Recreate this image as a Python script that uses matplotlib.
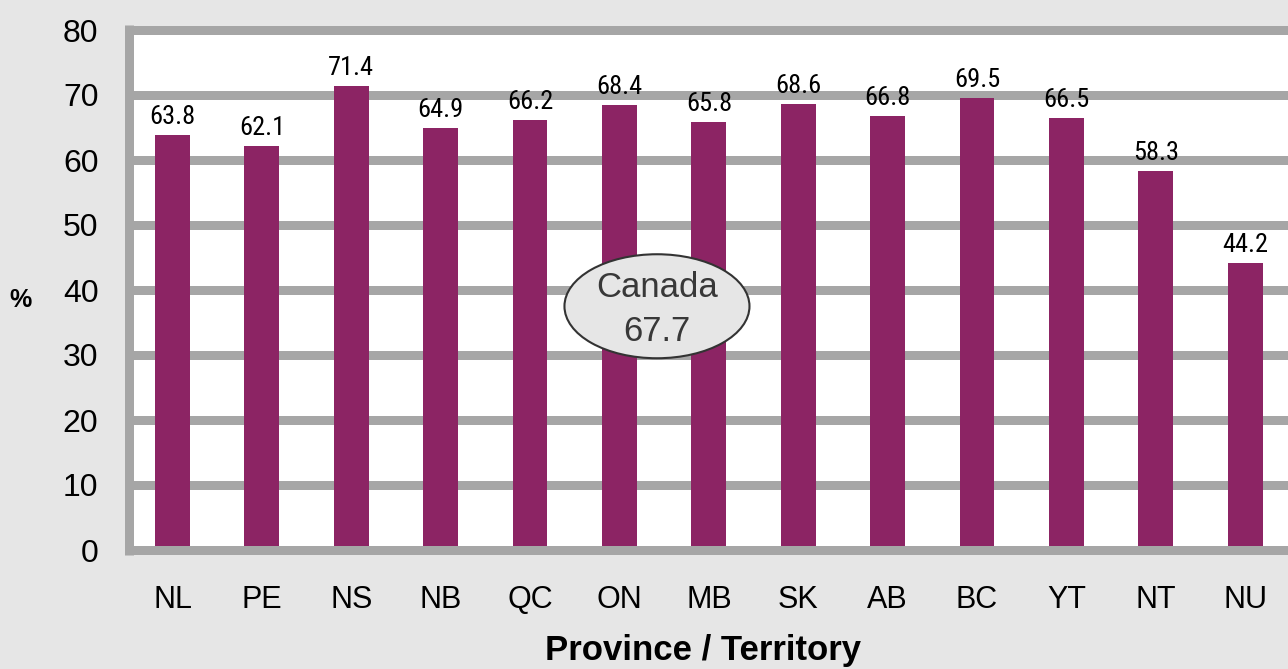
import matplotlib
matplotlib.use("Agg")
import matplotlib.pyplot as plt
from matplotlib.patches import Ellipse

# ---- data ----
provinces = ["NL", "PE", "NS", "NB", "QC", "ON", "MB", "SK", "AB", "BC", "YT", "NT", "NU"]
values = [63.8, 62.1, 71.4, 64.9, 66.2, 68.4, 65.8, 68.6, 66.8, 69.5, 66.5, 58.3, 44.2]
y_ticks = [0, 10, 20, 30, 40, 50, 60, 70, 80]
canada_label = "Canada"
canada_value = 67.7
x_title = "Province / Territory"
y_title = "%"

# ---- style ----
BG = "#E6E6E6"
GRID = "#A6A6A6"
BAR = "#8C2464"
DPI = 100
W, H = 1288, 669
px = 72.0 / DPI  # points per pixel

plt.rcParams["font.family"] = ["Liberation Sans", "DejaVu Sans"]

fig = plt.figure(figsize=(W / DPI, H / DPI), dpi=DPI, facecolor=BG)

left_px, right_px = 129, 1288
top_px, bottom_px = 30, 550
ax = fig.add_axes([left_px / W, (H - bottom_px) / H,
                   (right_px - left_px) / W, (bottom_px - top_px) / H])
ax.set_facecolor("white")

x = list(range(len(provinces)))
xmin, xmax = -0.487, 12.48
ax.set_xlim(xmin, xmax)
ax.set_ylim(0, 80)

# gridlines (thick grey)
for t in y_ticks:
    ax.hlines(t, xmin, xmax, colors=GRID, linewidth=9 * px,
              zorder=3 if t == 0 else 1, clip_on=False)
# left border
ax.vlines(xmin, -0.7, 80.7, colors=GRID, linewidth=9 * px, zorder=3, clip_on=False)

ax.bar(x, values, width=0.39, color=BAR, zorder=2)

narrow = ["Roboto Condensed", "Liberation Sans Narrow", "Open Sans Condensed",
          "Liberation Sans", "DejaVu Sans"]
for xi, v in zip(x, values):
    ax.annotate(f"{v:.1f}", (xi, v), xytext=(0, 11 * px), textcoords="offset points",
                ha="center", va="baseline", fontsize=19, family=narrow,
                color="black", zorder=5)

for s in ax.spines.values():
    s.set_visible(False)

ax.set_yticks(y_ticks)
ax.set_yticklabels([str(t) for t in y_ticks], fontsize=23)
ax.set_xticks(x)
ax.set_xticklabels(provinces, fontsize=22)
ax.tick_params(axis="y", length=0, pad=22)
ax.tick_params(axis="x", length=0, pad=25)

# Canada ellipse annotation
ell = Ellipse((5.42, 37.5), 2.07, 16.0, facecolor=BG, edgecolor="#333333",
              linewidth=1.5, zorder=6)
ax.add_patch(ell)
ax.text(5.42, 38.97, canada_label, ha="center", va="baseline", fontsize=25,
        color="#383838", zorder=7)
ax.text(5.42, 32.2, f"{canada_value:.1f}", ha="center", va="baseline", fontsize=25,
        color="#383838", zorder=7)

# axis titles
fig.text(703 / W, (H - 660) / H, x_title, ha="center", va="baseline",
         fontsize=25, fontweight="bold")
fig.text(21 / W, (H - 300) / H, y_title, ha="center", va="center",
         fontsize=18, fontweight="bold")

fig.savefig("out.png", dpi=DPI, facecolor=BG)
